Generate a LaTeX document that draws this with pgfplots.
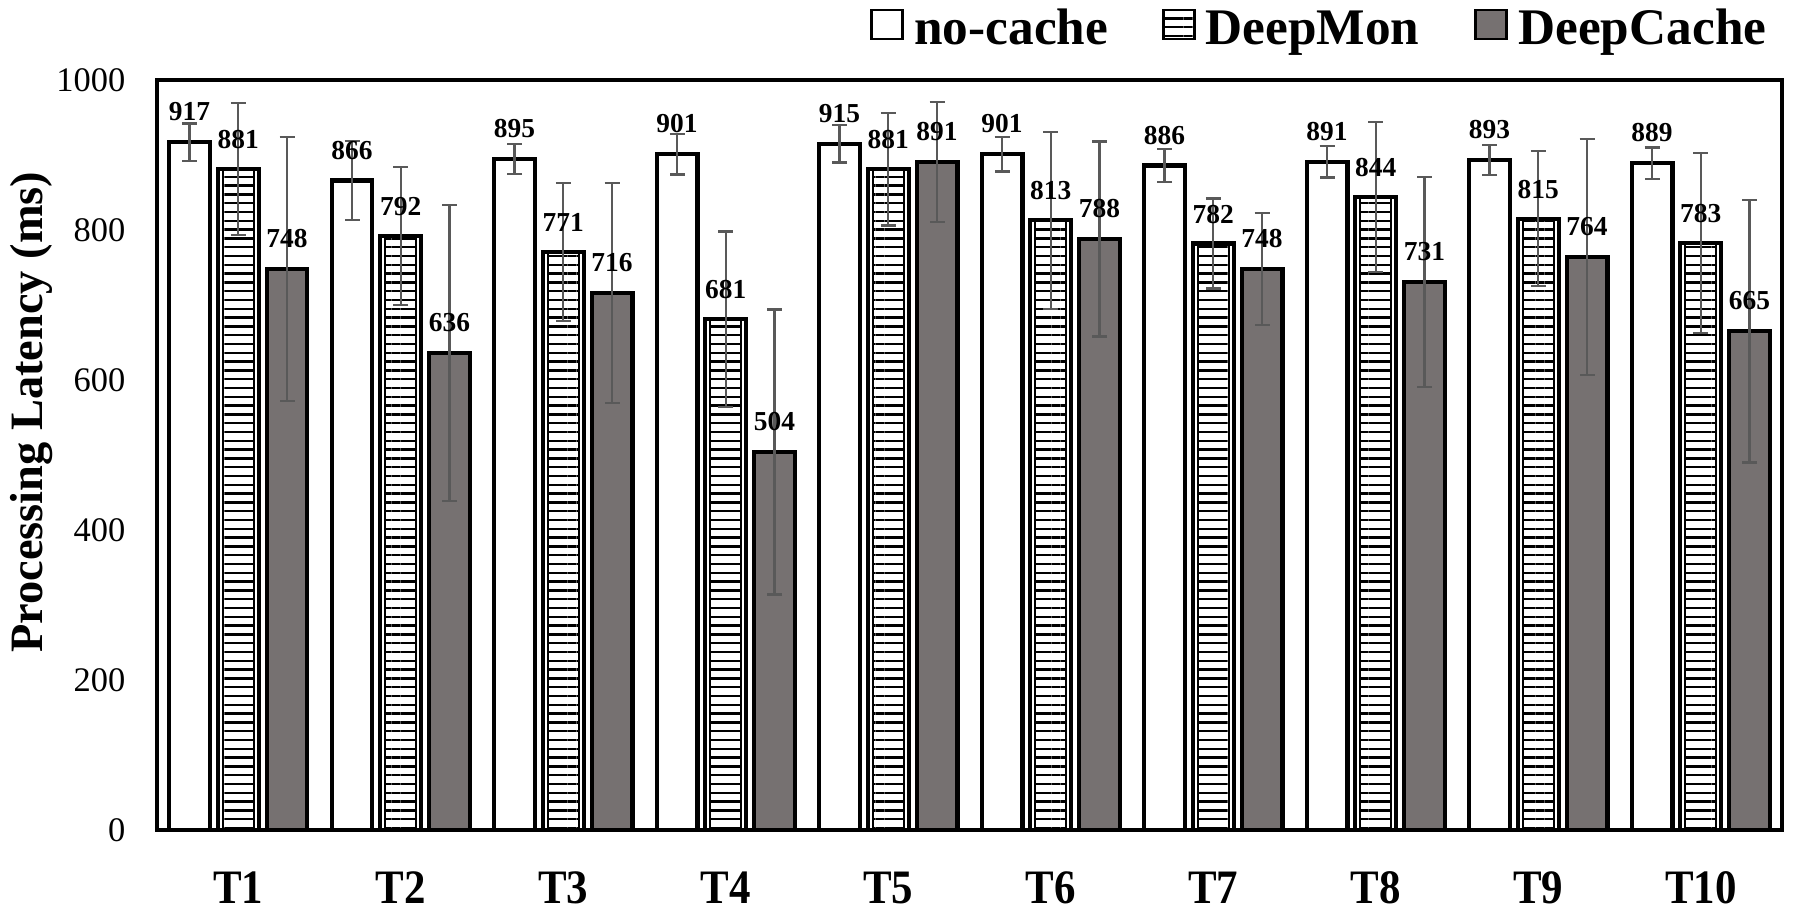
\documentclass[border=0pt]{standalone}
\usepackage{fontspec}
\setmainfont{Liberation Serif}
\usepackage{pgfplots}
\pgfplotsset{compat=1.18}
\usepackage{pgfplotstable}
\usetikzlibrary{patterns.meta}
\definecolor{dcgray}{RGB}{118,113,113}
\definecolor{errgray}{RGB}{89,89,89}

\pgfplotstableread{
x nc ncerr dm dmerr dc dcerr
0 917 25 881 88 748 176
1 866 53 792 92 636 197
2 895 20 771 92 716 147
3 901 27 681 117 504 190
4 915 25 881 75 891 80
5 901 23 813 118 788 130
6 886 22 782 60 748 75
7 891 21 844 100 731 140
8 893 20 815 90 764 157
9 889 21 783 120 665 175
}\datatable

\newcommand{\tl}[1]{\scalebox{1}[1.12]{#1}}
\begin{document}
\begin{tikzpicture}
\begin{axis}[
  at={(0,0)}, anchor=south west,
  width=162.5mm, height=75mm, scale only axis,
  xmin=-0.5, xmax=9.5, ymin=0, ymax=1000,
  ytick={0,200,...,1000},
  xtick={0,...,9}, xticklabels={\tl{T1},\tl{T2},\tl{T3},\tl{T4},\tl{T5},\tl{T6},\tl{T7},\tl{T8},\tl{T9},\tl{T10}},
  major tick length=0pt,
  axis line style={line width=1.15pt},
  /pgf/number format/assume math mode=true,
  /pgf/number format/fixed, /pgf/number format/precision=0,
  /pgf/number format/1000 sep={},
  yticklabel style={font=\fontsize{9.8}{10}\selectfont, anchor=east, inner sep=0pt, xshift=-3.1mm},
  xticklabel style={font=\bfseries\fontsize{12.2}{13}\selectfont, anchor=north, inner sep=0pt, yshift=-4.1mm},
  ylabel={Processing Latency (ms)},
  ylabel style={font=\bfseries\fontsize{13.2}{14}\selectfont, at={(axis description cs:-0.0908,0.557)}, anchor=north, inner sep=0pt},
  legend style={at={(1,1)}, anchor=south east, xshift=-1.5mm, yshift=2.95mm, draw=none, fill=none,
    inner sep=0pt, nodes={inner sep=0pt}, font=\bfseries\fontsize{14.6}{14.6}\selectfont,
    /tikz/every even column/.append style={column sep=5.4mm}},
  legend columns=3, legend cell align=left,
  legend image code/.code={\draw[#1, line width=0.75pt, draw=black] (0mm,-1.0mm) rectangle (3.1mm,1.9mm); \path (0mm,-1.0mm) (4.1mm,1.9mm);},
  every node near coord/.append style={font=\bfseries\fontsize{7.8}{8}\selectfont, anchor=south, inner sep=0pt, yshift=1.9mm, text=black},
  error bars/error bar style={line width=0.6pt, color=errgray},
  error bars/error mark options={line width=0.6pt, color=errgray, mark size=0.75mm, rotate=90},
]
\addplot[ybar, bar width=0.252, bar shift=0pt, draw=black, line width=1.15pt, fill=white,
  nodes near coords, error bars/.cd, y dir=both, y explicit]
  table[x expr=\thisrow{x}-0.30, y=nc, y error=ncerr] {\datatable};
\addlegendentry{\strut no-cache}
\addplot[ybar, bar width=0.252, bar shift=0pt, draw=black, line width=1.15pt, fill=white, forget plot]
  table[x=x, y=dm] {\datatable};
\addplot[ybar, bar width=0.19, bar shift=0pt, draw=black, line width=0.6pt,
  pattern={Lines[angle=0, distance=0.88mm, line width=0.23mm]},
  nodes near coords, error bars/.cd, y dir=both, y explicit]
  table[x=x, y=dm, y error=dmerr] {\datatable};
\addlegendentry{\strut DeepMon}
\addplot[ybar, bar width=0.252, bar shift=0pt, draw=black, line width=1.15pt, fill=dcgray,
  nodes near coords, error bars/.cd, y dir=both, y explicit]
  table[x expr=\thisrow{x}+0.30, y=dc, y error=dcerr] {\datatable};
\addlegendentry{\strut DeepCache}
\end{axis}
\pgfresetboundingbox
\path[use as bounding box] (-15.7mm,-8.6mm) rectangle (165.7mm,83.0mm);
\end{tikzpicture}
\end{document}
